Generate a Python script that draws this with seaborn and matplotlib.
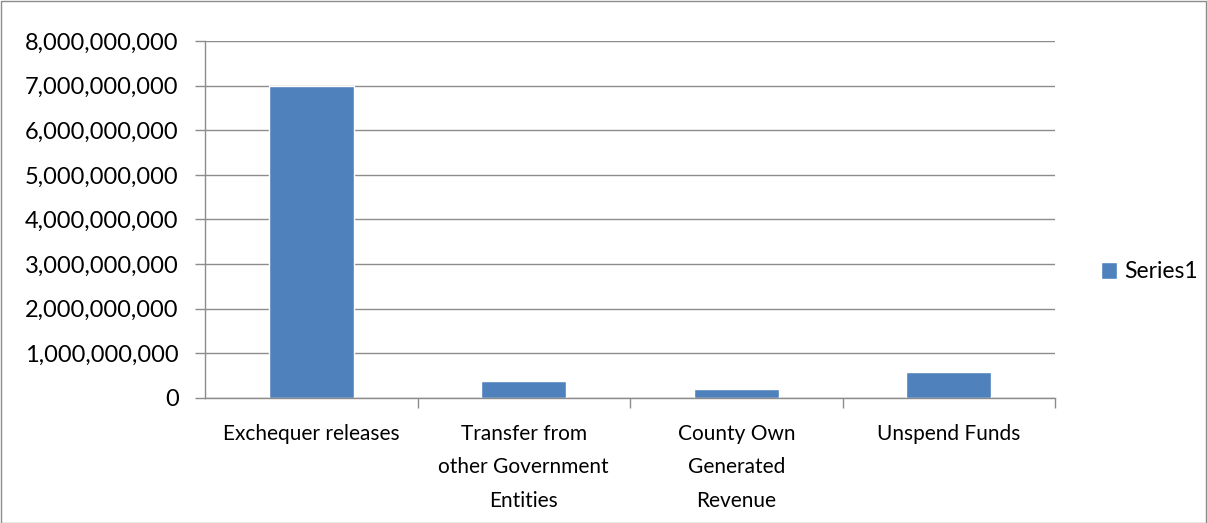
import matplotlib
matplotlib.use("Agg")
import matplotlib.pyplot as plt
import seaborn as sns
import pandas as pd
from matplotlib.ticker import FuncFormatter, MultipleLocator
from matplotlib.patches import Rectangle

categories = ["Exchequer releases", "Transfer from\nother Government\nEntities",
              "County Own\nGenerated\nRevenue", "Unspend Funds"]
values = [7.0e9, 0.39e9, 0.20e9, 0.58e9]
series_name = "Series1"

sns.set_theme(style="white")
plt.rcParams['font.family'] = ['Lato', 'DejaVu Sans']
plt.rcParams['text.color'] = 'black'
plt.rcParams['xtick.labelcolor'] = 'black'
plt.rcParams['ytick.labelcolor'] = 'black'

df = pd.DataFrame({"cat": categories, "val": values, "series": series_name})

fig = plt.figure(figsize=(12.07, 5.23), dpi=100)
ax = fig.add_axes([205/1207, 1 - 398/523, 850/1207, 357/523])

sns.barplot(data=df, x="cat", y="val", hue="series", palette=["#4F81BD"],
            width=0.4, ax=ax, legend=True, saturation=1)

ax.set_ylim(0, 8e9)
ax.set_xlim(-0.5, 3.5)
ax.yaxis.set_major_locator(MultipleLocator(1e9))
ax.yaxis.set_major_formatter(FuncFormatter(lambda v, p: f"{int(round(v)):,}"))
ax.grid(axis="y", color="#8C8C8C", linewidth=1)
ax.set_axisbelow(True)
for s in ["top", "right"]:
    ax.spines[s].set_visible(False)
for s in ["left", "bottom"]:
    ax.spines[s].set_color("#8C8C8C")
    ax.spines[s].set_linewidth(1)
ax.set_xlabel("")
ax.set_ylabel("")
ax.tick_params(axis="y", length=7, width=1, color="#8C8C8C", labelsize=17, pad=12,
               left=True, labelcolor="black")
ax.set_xticks(range(4))
ax.set_xticklabels(categories, fontsize=15, linespacing=1.85)
ax.tick_params(axis="x", length=0, labelsize=15, pad=18.5, labelcolor="black")
ax.set_xticks([0.5, 1.5, 2.5, 3.5], minor=True)
ax.tick_params(axis="x", which="minor", length=7, width=1, color="#8C8C8C", bottom=True)
for t in ax.get_xticklabels():
    t.set_verticalalignment("top")
    t.set_horizontalalignment("center")

leg = ax.legend(loc="center left", bbox_to_anchor=(1092/1207, 1 - 272/523),
                bbox_transform=fig.transFigure, frameon=False, borderaxespad=0,
                fontsize=16.5, handlelength=0.7, handleheight=0.7, handletextpad=0.3)
for t in leg.get_texts():
    t.set_color("black")

fig.patches.append(Rectangle((0.5/1207, 0.5/523), 1 - 1.5/1207, 1 - 1.5/523,
                             transform=fig.transFigure, fill=False,
                             edgecolor="#8C8C8C", linewidth=1))

fig.savefig("out.png", dpi=100)
